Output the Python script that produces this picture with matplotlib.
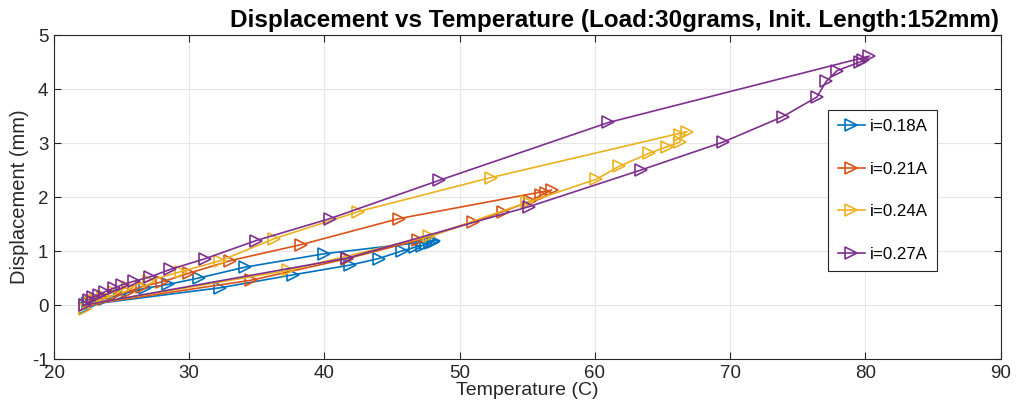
import matplotlib
matplotlib.use("Agg")
import matplotlib.pyplot as plt

plt.rcParams['font.family'] = ['Liberation Sans', 'DejaVu Sans']
plt.rcParams['axes.unicode_minus'] = False

# i = 0.18 A
temp_018 = [22.3, 22.3, 32.3, 37.7, 41.9, 44.0, 45.7, 46.7, 47.2, 47.5, 47.8, 48.0, 48.1,
            40.0, 34.1, 30.7, 28.4, 26.7, 24.9, 23.8, 23.2, 22.8, 22.5]
disp_018 = [-0.05, 0.0, 0.32, 0.56, 0.74, 0.86, 1.0, 1.07, 1.1, 1.13, 1.15, 1.17, 1.19,
            0.95, 0.70, 0.50, 0.38, 0.31, 0.19, 0.12, 0.08, 0.05, 0.03]

# i = 0.21 A
temp_021 = [22.3, 34.6, 41.7, 46.9, 51.0, 53.2, 55.2, 56.0, 56.4, 56.8,
            45.5, 38.3, 33.0, 30.0, 28.0, 26.5, 25.5, 24.4, 23.6, 23.0, 22.6]
disp_021 = [0.0, 0.46, 0.86, 1.2, 1.54, 1.73, 1.92, 2.03, 2.08, 2.13,
            1.60, 1.12, 0.82, 0.59, 0.43, 0.34, 0.25, 0.18, 0.12, 0.08, 0.04]

# i = 0.24 A
temp_024 = [22.3, 22.3, 37.3, 47.7, 55.0, 60.1, 61.8, 64.0, 65.3, 66.3, 66.3, 66.8,
            52.3, 42.5, 36.3, 32.3, 29.4, 27.0, 25.5, 24.4, 23.6, 23.0, 22.6]
disp_024 = [-0.08, 0.0, 0.64, 1.27, 1.9, 2.33, 2.57, 2.81, 2.93, 3.02, 3.15, 3.21,
            2.36, 1.73, 1.23, 0.82, 0.62, 0.45, 0.33, 0.24, 0.16, 0.1, 0.05]

# i = 0.27 A
temp_027 = [22.3, 41.7, 55.1, 63.4, 69.5, 73.9, 76.4, 77.1, 77.9, 79.6, 79.8, 80.3,
            61.0, 48.5, 40.4, 34.9, 31.2, 28.6, 27.1, 25.9, 25.0, 24.4, 23.8, 23.3, 22.9, 22.6]
disp_027 = [0.0, 0.87, 1.82, 2.5, 3.02, 3.49, 3.85, 4.14, 4.34, 4.5, 4.53, 4.61,
            3.38, 2.31, 1.6, 1.19, 0.86, 0.66, 0.52, 0.44, 0.37, 0.31, 0.25, 0.19, 0.14, 0.1]

labels = ["i=0.18A", "i=0.21A", "i=0.24A", "i=0.27A"]
colors = ["#0072BD", "#D95319", "#EDB120", "#7E2F8E"]
series = [(temp_018, disp_018), (temp_021, disp_021), (temp_024, disp_024), (temp_027, disp_027)]

fig = plt.figure(figsize=(10.19, 4.12), dpi=100)
ax = fig.add_axes([0.053, 0.1286, 0.929, 0.7864])

for (t, d), lab, c in zip(series, labels, colors):
    ax.plot(t, d, '-', color=c, lw=1.2, marker='>', markersize=8,
            markerfacecolor='none', markeredgewidth=1.2, label=lab)

ax.set_xlim(20, 90)
ax.set_ylim(-1, 5)
ax.set_xticks(range(20, 91, 10))
ax.set_yticks(range(-1, 6))
ax.grid(True, color='#e6e6e6', lw=0.8)
ax.set_axisbelow(True)
ax.tick_params(direction='in', top=True, right=True, length=5, labelsize=13.5,
               colors='#262626', pad=4)
for s in ax.spines.values():
    s.set_color('#262626')
    s.set_linewidth(0.8)

ax.set_xlabel("Temperature (C)", fontsize=14, color='#262626', labelpad=0)
ax.set_ylabel("Displacement (mm)", fontsize=14.5, color='#262626', labelpad=2)
fig.text(0.6026, 0.934, "Displacement vs Temperature (Load:30grams, Init. Length:152mm)",
         ha='center', va='baseline', fontsize=17.5, fontweight='bold')

leg = ax.legend(loc='upper left', bbox_to_anchor=(0.818, 0.769), fontsize=12.2,
                fancybox=False, framealpha=1, edgecolor='#262626',
                labelspacing=1.62, handlelength=1.6, borderpad=0.55, handletextpad=0.3,
                borderaxespad=0)
leg.get_frame().set_linewidth(0.8)

fig.savefig("out.png", dpi=100)
